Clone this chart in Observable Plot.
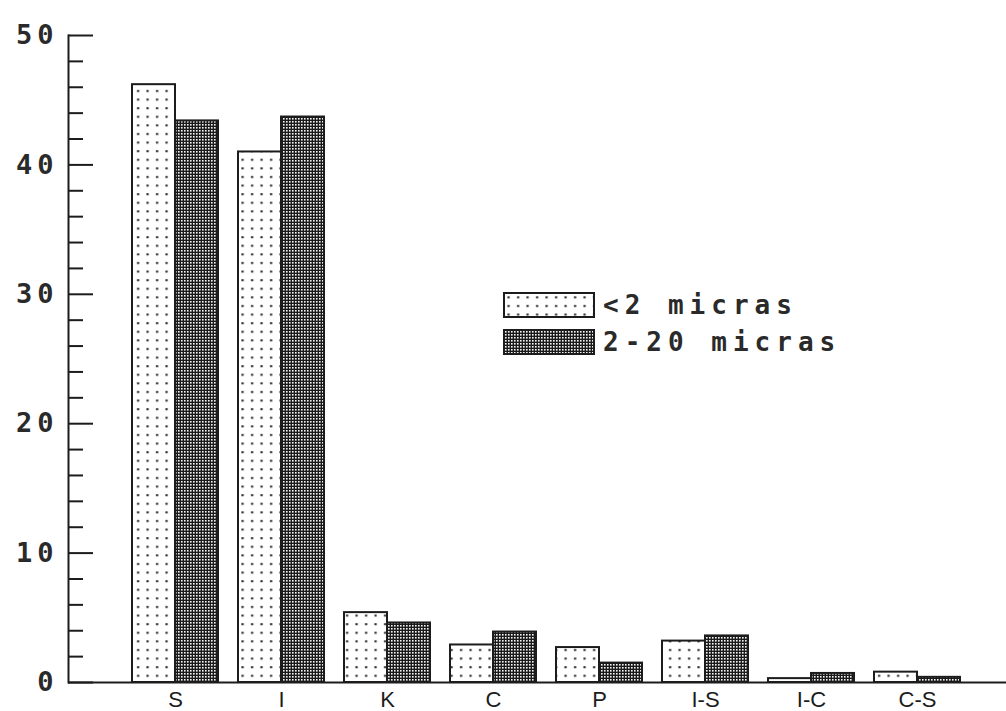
<!DOCTYPE html>
<html><head><meta charset="utf-8">
<script src="https://cdn.jsdelivr.net/npm/d3@7"></script>
<script src="https://cdn.jsdelivr.net/npm/@observablehq/plot@0.6"></script>
<style>body{margin:0;background:#fff}</style>
</head><body><div id="chart"></div>
<script>
const categories = ["S", "I", "K", "C", "P", "I-S", "I-C", "C-S"];
const seriesNames = ["<2 micras", "2-20 micras"];
const fineValues = [46.2, 41.0, 5.4, 2.9, 2.7, 3.2, 0.3, 0.8];
const coarseValues = [43.4, 43.7, 4.6, 3.9, 1.5, 3.6, 0.7, 0.4];
const majorTicks = [0, 10, 20, 30, 40, 50];
const minorTicks = [2, 4, 6, 8, 12, 14, 16, 18, 22, 24, 26, 28, 32, 34, 36, 38, 42, 44, 46, 48];

const rows = categories.map((c, i) => ({cat: c, fine: fineValues[i], coarse: coarseValues[i]}));
const ink = "#1c1c1c";

const chart = Plot.plot({
  width: 1006, height: 711,
  marginLeft: 68, marginRight: 0, marginTop: 35, marginBottom: 29,
  x: {domain: categories, range: [121, 971], paddingInner: 0.19, paddingOuter: 0.093, label: null},
  y: {domain: [0, 50], label: null},
  style: {background: "#fff", color: ink},
  marks: [
    Plot.barY(rows, {x: "cat", y: "fine", fill: "url(#dotsPat)", stroke: ink, strokeWidth: 2, insetRight: 43}),
    Plot.barY(rows, {x: "cat", y: "coarse", fill: "url(#gridPat)", stroke: ink, strokeWidth: 2, insetLeft: 43}),
    Plot.ruleY([0], {stroke: ink, strokeWidth: 2}),
    Plot.frame({anchor: "left", stroke: ink, strokeWidth: 2}),
    Plot.axisY(majorTicks, {tickSize: 25, dx: 25, tickFormat: () => "", stroke: ink, strokeWidth: 2}),
    Plot.axisY(minorTicks, {tickSize: 15, dx: 15, tickFormat: () => "", stroke: ink, strokeWidth: 2}),
    Plot.axisY(majorTicks, {tickSize: 0, tickPadding: 10, fontSize: 27, fontWeight: "bold", fontFamily: "DejaVu Sans Mono", fill: "#2a2a2a"}),
    Plot.axisX({tickSize: 0, tickPadding: 9, fontSize: 22, fontFamily: "Liberation Sans", fill: ink})
  ]
});

const svg = d3.select(chart);
const defs = svg.insert("defs", ":first-child");
const dp = defs.append("pattern").attr("id", "dotsPat").attr("patternUnits", "userSpaceOnUse")
  .attr("width", 9.5).attr("height", 8.6);
dp.append("rect").attr("width", 9.5).attr("height", 8.6).attr("fill", "#fff");
dp.append("rect").attr("x", 4).attr("y", 4).attr("width", 2.2).attr("height", 2).attr("fill", "#222");
const gp = defs.append("pattern").attr("id", "gridPat").attr("patternUnits", "userSpaceOnUse")
  .attr("width", 3).attr("height", 3);
gp.append("rect").attr("width", 3).attr("height", 3).attr("fill", "#1a1a1a");
gp.append("rect").attr("x", 1).attr("y", 1).attr("width", 1.6).attr("height", 1.6).attr("fill", "#f4f4f4");

svg.selectAll('[aria-label="y-axis tick label"] text').style("letter-spacing", "5px");

// legend
const lg = svg.append("g").attr("aria-label", "legend").attr("text-anchor", "start");
const swatchFills = ["url(#dotsPat)", "url(#gridPat)"];
const swY = [293, 330];
seriesNames.forEach((name, i) => {
  lg.append("rect").attr("x", 504).attr("y", swY[i]).attr("width", 90).attr("height", 24)
    .attr("fill", swatchFills[i]).attr("stroke", ink).attr("stroke-width", 2);
  lg.append("text").attr("x", 603).attr("y", swY[i] + 21)
    .attr("font-family", "DejaVu Sans Mono").attr("font-size", 26).attr("font-weight", "bold")
    .attr("text-anchor", "start")
    .style("letter-spacing", "6px").attr("fill", "#2a2a2a").text(name);
});

document.getElementById("chart").append(chart);
</script>
</body></html>
